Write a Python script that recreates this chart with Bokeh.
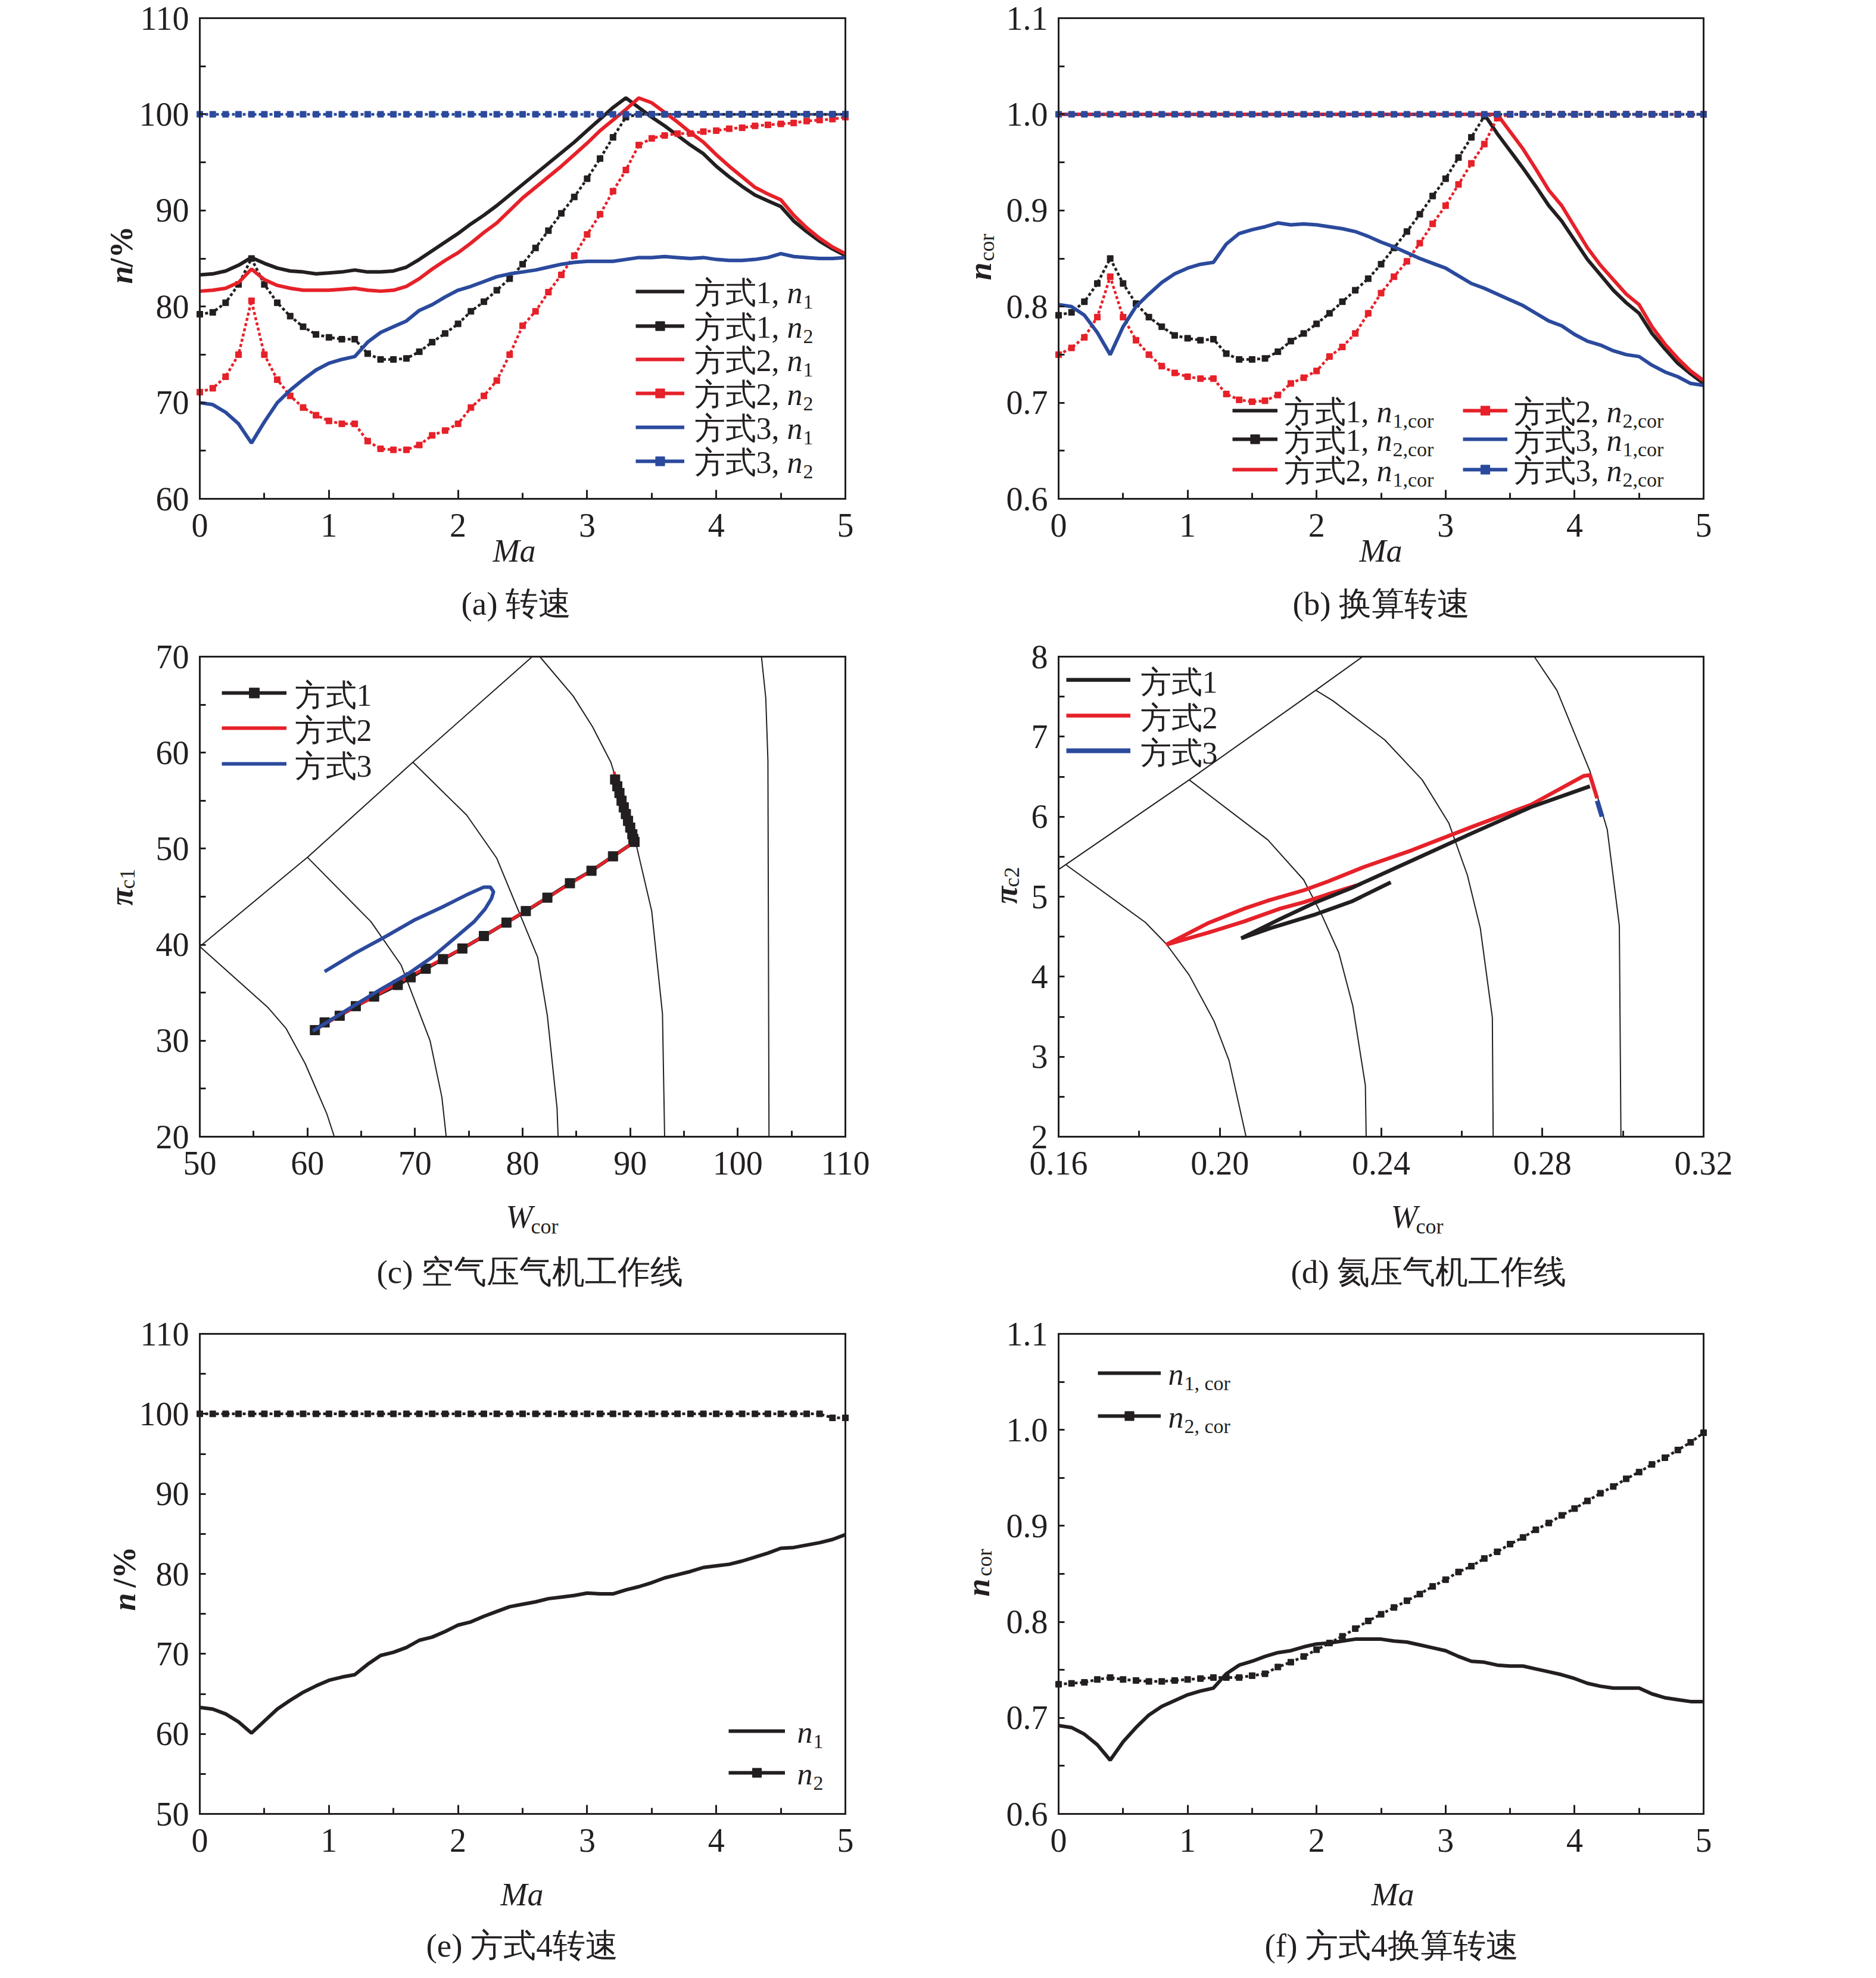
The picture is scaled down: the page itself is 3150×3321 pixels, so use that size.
import math
import numpy as np
from bokeh.plotting import figure
from bokeh.models import (Range1d, SingleIntervalTicker, FixedTicker, PrintfTickFormatter,
                          Label, Legend, LegendItem, LinearAxis)
from bokeh.layouts import column, row
from bokeh.embed import file_html
from bokeh.resources import INLINE
from bokeh.core.properties import value

FONT = "Liberation Serif"
BLACK = "#231f20"
RED = "#e62129"
BLUE = "#2b4a9d"

# ---------------- data ----------------
MA = [0.0, 0.1, 0.2, 0.3, 0.4, 0.5, 0.6, 0.7, 0.8, 0.9,
      1.0, 1.1, 1.2, 1.3, 1.4, 1.5, 1.6, 1.7, 1.8, 1.9,
      2.0, 2.1, 2.2, 2.3, 2.4, 2.5, 2.6, 2.7, 2.8, 2.9,
      3.0, 3.1, 3.2, 3.3, 3.4, 3.5, 3.6, 3.7, 3.8, 3.9,
      4.0, 4.1, 4.2, 4.3, 4.4, 4.5, 4.6, 4.7, 4.8, 4.9, 5.0]

# (a) speed n / %
a_m1_n1 = [83.3, 83.4, 83.7, 84.3, 85.1, 84.5, 84.0, 83.7, 83.6, 83.4,
           83.5, 83.6, 83.8, 83.6, 83.6, 83.7, 84.1, 84.9, 85.8, 86.7,
           87.6, 88.6, 89.5, 90.5, 91.6, 92.7, 93.8, 94.9, 96.0, 97.1,
           98.3, 99.5, 100.7, 101.7, 100.7, 99.7, 98.8, 97.8, 96.8, 95.9,
           94.6, 93.5, 92.5, 91.6, 91.0, 90.4, 88.9, 87.8, 86.8, 86.0, 85.3]
a_m1_n2 = [79.2, 79.4, 80.4, 82.3, 85.0, 82.3, 80.4, 79.0, 77.9, 77.1,
           76.8, 76.6, 76.6, 75.1, 74.5, 74.5, 74.6, 75.3, 76.3, 77.2,
           78.2, 79.5, 80.5, 81.7, 82.9, 84.4, 86.1, 87.9, 89.7, 91.4,
           93.3, 95.4, 97.6, 99.7, 100.0, 100.0, 100.0, 100.0, 100.0, 100.0,
           100.0, 100.0, 100.0, 100.0, 100.0, 100.0, 100.0, 100.0, 100.0, 100.0, 100.0]
a_m2_n1 = [81.6, 81.7, 81.9, 82.5, 83.9, 82.8, 82.2, 81.9, 81.7, 81.7,
           81.7, 81.8, 81.9, 81.7, 81.6, 81.7, 82.1, 82.9, 83.9, 84.8,
           85.6, 86.6, 87.7, 88.7, 90.0, 91.3, 92.4, 93.5, 94.6, 95.8,
           97.0, 98.3, 99.4, 100.5, 101.7, 101.2, 100.2, 99.2, 98.1, 97.1,
           95.8, 94.6, 93.5, 92.4, 91.7, 91.1, 89.5, 88.2, 87.1, 86.2, 85.5]
a_m2_n2 = [71.1, 71.5, 72.7, 75.0, 80.6, 75.0, 72.4, 70.7, 69.5, 68.7,
           68.1, 67.8, 67.8, 66.0, 65.2, 65.1, 65.1, 65.6, 66.6, 67.1,
           67.8, 69.5, 70.7, 72.3, 75.0, 78.0, 79.5, 81.5, 83.3, 85.3,
           87.5, 89.6, 92.0, 94.2, 96.8, 97.5, 97.8, 98.0, 98.0, 98.2,
           98.3, 98.5, 98.6, 98.8, 98.9, 99.0, 99.1, 99.3, 99.4, 99.5, 99.7]
a_m3_n1 = [70.0, 69.8, 69.0, 67.8, 65.8, 68.0, 70.0, 71.3, 72.4, 73.4,
           74.1, 74.5, 74.8, 76.3, 77.3, 77.9, 78.5, 79.6, 80.2, 81.0,
           81.7, 82.1, 82.6, 83.1, 83.4, 83.6, 83.8, 84.1, 84.4, 84.6,
           84.7, 84.7, 84.7, 84.9, 85.1, 85.1, 85.2, 85.1, 85.0, 85.1,
           84.9, 84.8, 84.8, 84.9, 85.1, 85.5, 85.2, 85.1, 85.0, 85.0, 85.1]
a_m3_n2 = [100.0, 100.0, 100.0, 100.0, 100.0, 100.0, 100.0, 100.0, 100.0, 100.0,
           100.0, 100.0, 100.0, 100.0, 100.0, 100.0, 100.0, 100.0, 100.0, 100.0,
           100.0, 100.0, 100.0, 100.0, 100.0, 100.0, 100.0, 100.0, 100.0, 100.0,
           100.0, 100.0, 100.0, 100.0, 100.0, 100.0, 100.0, 100.0, 100.0, 100.0,
           100.0, 100.0, 100.0, 100.0, 100.0, 100.0, 100.0, 100.0, 100.0, 100.0, 100.0]

# (b) corrected speed
b_m1_n1 = [1.0, 1.0, 1.0, 1.0, 1.0, 1.0, 1.0, 1.0, 1.0, 1.0,
           1.0, 1.0, 1.0, 1.0, 1.0, 1.0, 1.0, 1.0, 1.0, 1.0,
           1.0, 1.0, 1.0, 1.0, 1.0, 1.0, 1.0, 1.0, 1.0, 1.0,
           1.0, 1.0, 1.0, 1.0, 0.980, 0.962, 0.944, 0.925, 0.905, 0.889,
           0.869, 0.849, 0.833, 0.817, 0.804, 0.793, 0.772, 0.756, 0.741, 0.730, 0.720]
b_m1_n2 = [0.791, 0.794, 0.805, 0.824, 0.850, 0.824, 0.803, 0.789, 0.779, 0.770,
           0.767, 0.765, 0.766, 0.751, 0.745, 0.745, 0.746, 0.753, 0.764, 0.772,
           0.782, 0.793, 0.805, 0.817, 0.829, 0.844, 0.861, 0.878, 0.896, 0.915,
           0.933, 0.955, 0.976, 0.998, 1.0, 1.0, 1.0, 1.0, 1.0, 1.0,
           1.0, 1.0, 1.0, 1.0, 1.0, 1.0, 1.0, 1.0, 1.0, 1.0, 1.0]
b_m2_n1 = [1.0, 1.0, 1.0, 1.0, 1.0, 1.0, 1.0, 1.0, 1.0, 1.0,
           1.0, 1.0, 1.0, 1.0, 1.0, 1.0, 1.0, 1.0, 1.0, 1.0,
           1.0, 1.0, 1.0, 1.0, 1.0, 1.0, 1.0, 1.0, 1.0, 1.0,
           1.0, 1.0, 1.0, 1.0, 1.0, 0.982, 0.964, 0.943, 0.921, 0.905,
           0.883, 0.861, 0.843, 0.828, 0.813, 0.802, 0.779, 0.761, 0.746, 0.733, 0.723]
b_m2_n2 = [0.750, 0.757, 0.768, 0.789, 0.831, 0.789, 0.765, 0.750, 0.738, 0.731,
           0.727, 0.725, 0.725, 0.709, 0.703, 0.701, 0.702, 0.708, 0.720, 0.726,
           0.733, 0.748, 0.758, 0.772, 0.793, 0.814, 0.831, 0.847, 0.866, 0.886,
           0.905, 0.927, 0.949, 0.969, 0.996, 1.0, 1.0, 1.0, 1.0, 1.0,
           1.0, 1.0, 1.0, 1.0, 1.0, 1.0, 1.0, 1.0, 1.0, 1.0, 1.0]
b_m3_n1 = [0.802, 0.800, 0.791, 0.773, 0.750, 0.779, 0.800, 0.813, 0.825, 0.834,
           0.840, 0.844, 0.846, 0.865, 0.876, 0.880, 0.883, 0.887, 0.885, 0.886,
           0.885, 0.883, 0.881, 0.878, 0.873, 0.867, 0.862, 0.856, 0.850, 0.845,
           0.840, 0.832, 0.824, 0.819, 0.813, 0.807, 0.801, 0.793, 0.785, 0.780,
           0.771, 0.764, 0.760, 0.754, 0.750, 0.748, 0.739, 0.732, 0.727, 0.720, 0.718]
b_m3_n2 = [1.0, 1.0, 1.0, 1.0, 1.0, 1.0, 1.0, 1.0, 1.0, 1.0,
           1.0, 1.0, 1.0, 1.0, 1.0, 1.0, 1.0, 1.0, 1.0, 1.0,
           1.0, 1.0, 1.0, 1.0, 1.0, 1.0, 1.0, 1.0, 1.0, 1.0,
           1.0, 1.0, 1.0, 1.0, 1.0, 1.0, 1.0, 1.0, 1.0, 1.0,
           1.0, 1.0, 1.0, 1.0, 1.0, 1.0, 1.0, 1.0, 1.0, 1.0, 1.0]

# (c) air compressor map
c_surge_w = [50.0, 60.0, 69.8, 80.9]
c_surge_pr = [39.8, 49.1, 59.0, 70.0]
c_sp1_w = [50.0, 56.3, 58.0, 59.8, 61.8, 62.5]
c_sp1_pr = [39.8, 33.5, 31.3, 27.6, 22.4, 20.0]
c_sp2_w = [60.0, 65.9, 68.7, 71.4, 72.5, 72.9]
c_sp2_pr = [49.1, 42.4, 37.9, 30.0, 24.1, 20.0]
c_sp3_w = [69.8, 74.8, 77.6, 81.4, 82.3, 83.2, 83.3]
c_sp3_pr = [59.0, 53.5, 49.0, 38.7, 32.6, 23.0, 20.0]
c_sp4_w = [81.6, 84.7, 86.5, 88.2, 90.5, 92.0, 93.0, 93.2]
c_sp4_pr = [70.0, 65.9, 62.7, 59.0, 50.7, 43.5, 32.8, 20.0]
c_sp5_w = [102.2, 102.6, 102.8, 102.9]
c_sp5_pr = [70.0, 65.7, 59.2, 20.0]
c_m1_w = [60.7, 61.6, 63.0, 64.5, 66.2, 68.4, 69.6, 71.0, 72.6, 74.4, 76.4, 78.5,
          80.3, 82.3, 84.4, 86.4, 88.4, 90.4, 90.3, 90.2, 90.0, 89.8, 89.6, 89.4,
          89.2, 89.0, 88.8, 88.6]
c_m1_pr = [31.1, 31.9, 32.6, 33.6, 34.6, 35.8, 36.6, 37.5, 38.5, 39.6, 40.9, 42.3,
           43.5, 44.9, 46.4, 47.7, 49.2, 50.7, 51.0, 51.5, 52.2, 52.9, 53.6, 54.3,
           55.0, 55.8, 56.5, 57.2]
c_m2_w = [60.7, 63.0, 66.2, 70.0, 74.4, 78.5, 82.3, 86.4, 88.4, 90.4, 89.9, 89.4, 88.9, 88.5]
c_m2_pr = [31.1, 32.6, 34.6, 37.0, 39.6, 42.3, 44.9, 47.7, 49.2, 50.7, 52.6, 54.3, 56.2, 58.0]
c_m3_w = [60.5, 64.4, 66.6, 69.4, 71.6, 73.6, 75.5, 76.5, 77.1, 77.3, 77.0, 76.4,
          75.0, 72.5, 70.0, 67.2, 64.4, 61.6]
c_m3_pr = [31.0, 33.7, 35.2, 37.0, 38.7, 40.6, 42.4, 43.7, 44.8, 45.5, 46.0, 46.0,
           45.3, 43.9, 42.6, 40.8, 39.1, 37.2]

# (d) helium compressor map
d_surge_w = [0.160, 0.1924, 0.2238, 0.2354]
d_surge_pr = [5.34, 6.46, 7.58, 8.0]
d_sp1_w = [0.1618, 0.1815, 0.1867, 0.1924, 0.1986, 0.2023, 0.2065]
d_sp1_pr = [5.40, 4.68, 4.41, 4.02, 3.44, 2.95, 2.0]
d_sp2_w = [0.1924, 0.2119, 0.2208, 0.2253, 0.2295, 0.2330, 0.2361, 0.2363]
d_sp2_pr = [6.46, 5.71, 5.21, 4.77, 4.30, 3.63, 2.64, 2.0]
d_sp3_w = [0.2238, 0.2280, 0.2409, 0.2502, 0.2568, 0.2614, 0.2646, 0.2676, 0.2678]
d_sp3_pr = [7.58, 7.45, 6.96, 6.46, 5.92, 5.27, 4.61, 3.49, 2.0]
d_sp4_w = [0.2780, 0.2836, 0.2918, 0.2961, 0.2991, 0.2995]
d_sp4_pr = [8.0, 7.58, 6.57, 5.84, 4.64, 2.0]
d_m1_w = [0.2424, 0.2327, 0.2238, 0.2134, 0.2053, 0.2149, 0.2238, 0.2327, 0.2476,
          0.2624, 0.2772, 0.2918]
d_m1_pr = [5.18, 4.94, 4.78, 4.62, 4.48, 4.72, 4.93, 5.11, 5.45, 5.79, 6.12, 6.38]
d_m2_w = [0.2339, 0.2268, 0.2208, 0.2149, 0.2060, 0.1971, 0.1867, 0.1971, 0.2060,
          0.2119, 0.2208, 0.2268, 0.2357, 0.2476, 0.2624, 0.2772, 0.2903, 0.2918, 0.2936]
d_m2_pr = [5.14, 5.03, 4.93, 4.85, 4.69, 4.55, 4.40, 4.67, 4.85, 4.95, 5.08, 5.19,
           5.37, 5.58, 5.87, 6.15, 6.51, 6.52, 6.23]
d_m3_w = [0.2936, 0.2942, 0.2948]
d_m3_pr = [6.20, 6.10, 6.00]

# (e) mode 4 speed
e_n1 = [63.3, 63.1, 62.5, 61.5, 60.1, 61.6, 63.1, 64.2, 65.2, 66.0,
        66.7, 67.1, 67.4, 68.7, 69.8, 70.2, 70.8, 71.7, 72.1, 72.8,
        73.6, 74.0, 74.7, 75.3, 75.9, 76.2, 76.5, 76.9, 77.1, 77.3,
        77.6, 77.5, 77.5, 78.0, 78.4, 78.9, 79.5, 79.9, 80.3, 80.8,
        81.0, 81.2, 81.6, 82.1, 82.6, 83.2, 83.3, 83.6, 83.9, 84.3, 84.9]
e_n2 = [100.0, 100.0, 100.0, 100.0, 100.0, 100.0, 100.0, 100.0, 100.0, 100.0,
        100.0, 100.0, 100.0, 100.0, 100.0, 100.0, 100.0, 100.0, 100.0, 100.0,
        100.0, 100.0, 100.0, 100.0, 100.0, 100.0, 100.0, 100.0, 100.0, 100.0,
        100.0, 100.0, 100.0, 100.0, 100.0, 100.0, 100.0, 100.0, 100.0, 100.0,
        100.0, 100.0, 100.0, 100.0, 100.0, 100.0, 100.0, 100.0, 100.0, 99.5, 99.5]

# (f) mode 4 corrected speed
f_n1 = [0.692, 0.690, 0.683, 0.672, 0.656, 0.675, 0.690, 0.703, 0.712, 0.718,
        0.724, 0.728, 0.731, 0.746, 0.755, 0.759, 0.764, 0.768, 0.770, 0.774,
        0.777, 0.778, 0.780, 0.782, 0.782, 0.782, 0.780, 0.779, 0.776, 0.773,
        0.770, 0.764, 0.759, 0.758, 0.755, 0.754, 0.754, 0.751, 0.748, 0.745,
        0.741, 0.736, 0.733, 0.731, 0.731, 0.731, 0.725, 0.721, 0.719, 0.717, 0.717]
f_n2 = [0.735, 0.736, 0.737, 0.740, 0.742, 0.740, 0.739, 0.738, 0.738, 0.739,
        0.740, 0.741, 0.742, 0.742, 0.742, 0.744, 0.746, 0.753, 0.758, 0.764,
        0.771, 0.778, 0.785, 0.793, 0.801, 0.808, 0.815, 0.822, 0.829, 0.837,
        0.844, 0.852, 0.858, 0.866, 0.873, 0.881, 0.888, 0.896, 0.903, 0.911,
        0.918, 0.926, 0.934, 0.941, 0.949, 0.956, 0.964, 0.971, 0.979, 0.987, 0.997]

CAPTIONS = ["(a) 转速", "(b) 换算转速", "(c) 空气压气机工作线",
            "(d) 氦压气机工作线", "(e) 方式4转速", "(f) 方式4换算转速"]
MODES = ["方式1", "方式2", "方式3"]

# ---------------- layout (screen pixels of the page) ----------------
LW, RW = 1480, 1460
COLS = [(8, LW, 343, 1427), (8 + LW, RW, 1785, 2868)]       # canvas x0, width, box left, box right
ROWS = [(8, 1062, 38, 845), (1070, 1130, 1110, 1916), (2200, 1113, 2247, 3053)]  # canvas y0, height, box top, box bottom
EPS = 1e-9
NAN = np.array([np.nan])
HALF_PI = math.pi / 2
BASE_SHIFT = 0.26   # alphabetic-baseline correction, in em


def make_fig(ci, ri, xr, yr, xint, yint, xfmt=None, yfmt=None):
    x0, w, fl, fr = COLS[ci]
    y0, h, ft, fb = ROWS[ri]
    kx = (fr - fl) / (xr[1] - xr[0])
    ky = (fb - ft) / (yr[1] - yr[0])
    x_start = xr[0] - (fl - x0) / kx
    x_end = xr[1] + (x0 + w - fr) / kx
    y_start = yr[0] - (y0 + h - fb) / ky
    y_end = yr[1] + (ft - y0) / ky
    p = figure(width=w, height=h, x_range=Range1d(x_start, x_end),
               y_range=Range1d(y_start, y_end), output_backend="svg",
               toolbar_location=None, title=None, min_border=0)
    p.grid.visible = False
    p.outline_line_color = None
    p.background_fill_color = "white"
    p.border_fill_color = "white"
    xb = (xr[0] - EPS, xr[1] + EPS)
    yb = (yr[0] - EPS, yr[1] + EPS)
    xa, ya = p.xaxis[0], p.yaxis[0]
    xa.ticker = SingleIntervalTicker(interval=xint, num_minor_ticks=2)
    ya.ticker = SingleIntervalTicker(interval=yint, num_minor_ticks=2)
    if xfmt:
        xa.formatter = PrintfTickFormatter(format=xfmt)
    if yfmt:
        ya.formatter = PrintfTickFormatter(format=yfmt)
    xa.fixed_location = yr[0]
    xa.bounds = xb
    ya.fixed_location = xr[0]
    ya.bounds = yb
    for ax in (xa, ya):
        ax.axis_line_width = 3
        ax.axis_line_color = BLACK
        ax.axis_line_cap = "square"
        ax.major_tick_line_color = BLACK
        ax.minor_tick_line_color = BLACK
        ax.major_tick_line_width = 3
        ax.minor_tick_line_width = 3
        ax.major_tick_out = 0
        ax.minor_tick_out = 0
        ax.minor_tick_in = 10
        ax.major_label_text_font = FONT
        ax.major_label_text_font_size = "56px"
        ax.major_label_text_color = BLACK
    xa.major_tick_in = 15
    ya.major_tick_in = 0
    xa.major_label_standoff = 25
    ya.major_label_standoff = 18
    top = LinearAxis(ticker=FixedTicker(ticks=[]), fixed_location=yr[1], bounds=xb)
    right = LinearAxis(ticker=FixedTicker(ticks=[]), fixed_location=xr[1], bounds=yb)
    for ax in (top, right):
        ax.axis_line_width = 3
        ax.axis_line_color = BLACK
        ax.axis_line_cap = "square"
        ax.major_tick_in = 0
        ax.major_tick_out = 0
        ax.minor_tick_in = 0
        ax.minor_tick_out = 0
        ax.major_label_text_font_size = "0px"
    p.add_layout(top, "above")
    p.add_layout(right, "right")

    def txt(X, Y, text, size=52, style="normal", angle=0.0, align="left", baseline="alphabetic"):
        if baseline == "alphabetic":
            Y = Y - BASE_SHIFT * size
        p.add_layout(Label(x=X - x0, y=(y0 + h) - Y, x_units="screen", y_units="screen",
                           text=text, text_font=FONT, text_font_size=f"{size}px",
                           text_font_style=style, text_color=BLACK, angle=angle,
                           text_align=align, text_baseline=baseline))

    def sample(renderers, X0, X1, Yc, H=38):
        leg = Legend(items=[LegendItem(label=value(" "), renderers=renderers)],
                     location=(X0 - x0, (y0 + h) - (Yc + H / 2)), orientation="vertical",
                     padding=0, margin=0, spacing=0, glyph_width=X1 - X0, glyph_height=H,
                     label_height=H, label_width=1, label_standoff=0,
                     label_text_font_size="1px", border_line_alpha=0,
                     background_fill_alpha=0)
        p.add_layout(leg)

    return p, txt, sample


def series(p, x, y, color, dotted=False, width=6, msize=10):
    if dotted:
        p.line(x, y, line_color=color, line_width=4.5, line_dash="5 4")
        p.scatter(x, y, marker="square", size=msize, color=color)
    else:
        p.line(x, y, line_color=color, line_width=width)


def legend_renderers(p, color, marker=False, width=6, msize=10):
    rs = [p.line(x=NAN, y=NAN, line_color=color, line_width=width)]
    if marker:
        rs.append(p.scatter(x=NAN, y=NAN, marker="square", size=msize, color=color))
    return rs


# ---------------- (a) ----------------
pa, ta, sa = make_fig(0, 0, (0, 5), (60, 110), 1, 10)
series(pa, MA, a_m1_n1, BLACK)
series(pa, MA, a_m1_n2, BLACK, dotted=True)
series(pa, MA, a_m2_n1, RED)
series(pa, MA, a_m2_n2, RED, dotted=True)
series(pa, MA, a_m3_n1, BLUE)
series(pa, MA, a_m3_n2, BLUE, dotted=True)
a_items = [(BLACK, False, 0, "1"), (BLACK, True, 0, "2"), (RED, False, 1, "1"),
           (RED, True, 1, "2"), (BLUE, False, 2, "1"), (BLUE, True, 2, "2")]
for (col, mk, mi, sub), yc in zip(a_items, [497, 555, 611, 668, 725, 782]):
    sa(legend_renderers(pa, col, mk), 1075, 1157, yc)
    ta(1173, yc + 16, MODES[mi] + ",")
    ta(1329, yc + 16, "n", style="italic")
    ta(1356, yc + 26, sub, size=34)
ta(211, 484, "n", size=54, style="bold italic", angle=HALF_PI, baseline="middle")
ta(211, 456, "/%", size=54, style="bold", angle=HALF_PI, baseline="middle")
ta(871, 947, "Ma", size=54, style="italic", align="center")
ta(782, 1035, CAPTIONS[0], size=55)

# ---------------- (b) ----------------
pb, tb, sb = make_fig(1, 0, (0, 5), (0.6, 1.1), 1, 0.1, yfmt="%.1f")
series(pb, MA, b_m1_n1, BLACK)
series(pb, MA, b_m1_n2, BLACK, dotted=True)
series(pb, MA, b_m2_n1, RED)
series(pb, MA, b_m2_n2, RED, dotted=True)
series(pb, MA, b_m3_n1, BLUE)
series(pb, MA, b_m3_n2, BLUE, dotted=True)
b_items = [(BLACK, False, 0, "1,cor", 0), (BLACK, True, 0, "2,cor", 0), (RED, False, 1, "1,cor", 0),
           (RED, True, 1, "2,cor", 1), (BLUE, False, 2, "1,cor", 1), (BLUE, True, 2, "2,cor", 1)]
b_rows = [697, 745, 796, 697, 745, 796]
b_cols = [(2077, 2153, 2163), (2464, 2539, 2549)]
for (col, mk, mi, sub, cc), yc in zip(b_items, b_rows):
    x0s, x1s, xt = b_cols[cc]
    sb(legend_renderers(pb, col, mk), x0s, x1s, yc)
    tb(xt, yc + 16, MODES[mi] + ",")
    tb(xt + 156, yc + 16, "n", style="italic")
    tb(xt + 183, yc + 26, sub, size=34)
tb(1653, 478, "n", size=54, style="bold italic", angle=HALF_PI, baseline="middle")
tb(1664, 446, "cor", size=36, angle=HALF_PI, baseline="middle")
tb(2326, 947, "Ma", size=54, style="italic", align="center")
tb(2178, 1035, CAPTIONS[1], size=55)

# ---------------- (c) ----------------
pc, tc, sc = make_fig(0, 1, (50, 110), (20, 70), 10, 10)
for wx, py in [(c_surge_w, c_surge_pr), (c_sp1_w, c_sp1_pr), (c_sp2_w, c_sp2_pr),
               (c_sp3_w, c_sp3_pr), (c_sp4_w, c_sp4_pr), (c_sp5_w, c_sp5_pr)]:
    pc.line(wx, py, line_color=BLACK, line_width=2)
pc.line(c_m1_w, c_m1_pr, line_color=BLACK, line_width=6)
pc.line(c_m2_w, c_m2_pr, line_color=RED, line_width=5)
pc.scatter(c_m1_w, c_m1_pr, marker="square", size=16, color=BLACK)
pc.line(c_m3_w, c_m3_pr, line_color=BLUE, line_width=6)
c_leg = [(BLACK, True), (RED, False), (BLUE, False)]
for i, ((col, mk), yc) in enumerate(zip(c_leg, [1171, 1230, 1290])):
    sc(legend_renderers(pc, col, mk, width=6, msize=16), 380, 489, yc, H=42)
    tc(502, yc + 18, MODES[i], size=52)
tc(211, 1528, "π", size=54, style="bold italic", angle=HALF_PI, baseline="middle")
tc(221, 1500, "c1", size=36, angle=HALF_PI, baseline="middle")
tc(857, 2065, "W", size=54, style="italic")
tc(899, 2076, "cor", size=36)
tc(640, 2157, CAPTIONS[2], size=55)

# ---------------- (d) ----------------
pd_, td, sd = make_fig(1, 1, (0.16, 0.32), (2, 8), 0.04, 1, xfmt="%.2f")
for wx, py in [(d_surge_w, d_surge_pr), (d_sp1_w, d_sp1_pr), (d_sp2_w, d_sp2_pr),
               (d_sp3_w, d_sp3_pr), (d_sp4_w, d_sp4_pr)]:
    pd_.line(wx, py, line_color=BLACK, line_width=2)
pd_.line(d_m2_w, d_m2_pr, line_color=RED, line_width=6.5)
pd_.line(d_m1_w, d_m1_pr, line_color=BLACK, line_width=6.5)
pd_.line(d_m3_w, d_m3_pr, line_color=BLUE, line_width=8)
for i, (col, yc) in enumerate(zip([BLACK, RED, BLUE], [1149, 1209, 1268])):
    sd(legend_renderers(pd_, col, False, width=8 if i == 2 else 6.5), 1798, 1906, yc, H=42)
    td(1922, yc + 18, MODES[i], size=52)
td(1696, 1525, "π", size=54, style="bold italic", angle=HALF_PI, baseline="middle")
td(1706, 1497, "c2", size=36, angle=HALF_PI, baseline="middle")
td(2343, 2065, "W", size=54, style="italic")
td(2385, 2076, "cor", size=36)
td(2175, 2157, CAPTIONS[3], size=55)

# ---------------- (e) ----------------
pe, te, se = make_fig(0, 2, (0, 5), (50, 110), 1, 10)
series(pe, MA, e_n1, BLACK)
series(pe, MA, e_n2, BLACK, dotted=True)
for (mk, sub), yc in zip([(False, "1"), (True, "2")], [2914, 2984]):
    se(legend_renderers(pe, BLACK, mk), 1231, 1326, yc)
    te(1346, yc + 16, "n", style="italic")
    te(1373, yc + 26, sub, size=34)
te(216, 2712, "n", size=54, style="bold italic", angle=HALF_PI, baseline="middle")
te(216, 2673, "/%", size=54, style="bold", angle=HALF_PI, baseline="middle")
te(884, 3203, "Ma", size=54, style="italic", align="center")
te(723, 3288, CAPTIONS[4], size=55)

# ---------------- (f) ----------------
pf, tf, sf = make_fig(1, 2, (0, 5), (0.6, 1.1), 1, 0.1, yfmt="%.1f")
series(pf, MA, f_n1, BLACK)
series(pf, MA, f_n2, BLACK, dotted=True)
for (mk, sub), yc in zip([(False, "1, cor"), (True, "2, cor")], [2313, 2385]):
    sf(legend_renderers(pf, BLACK, mk), 1851, 1957, yc)
    tf(1969, yc + 16, "n", style="italic")
    tf(1996, yc + 26, sub, size=34)
tf(1650, 2688, "n", size=54, style="bold italic", angle=HALF_PI, baseline="middle")
tf(1660, 2654, "cor", size=36, angle=HALF_PI, baseline="middle")
tf(2346, 3203, "Ma", size=54, style="italic", align="center")
tf(2131, 3288, CAPTIONS[5], size=55)

layout = column(row(pa, pb), row(pc, pd_), row(pe, pf))
with open("out.html", "w") as fh:
    fh.write(file_html(layout, INLINE))
